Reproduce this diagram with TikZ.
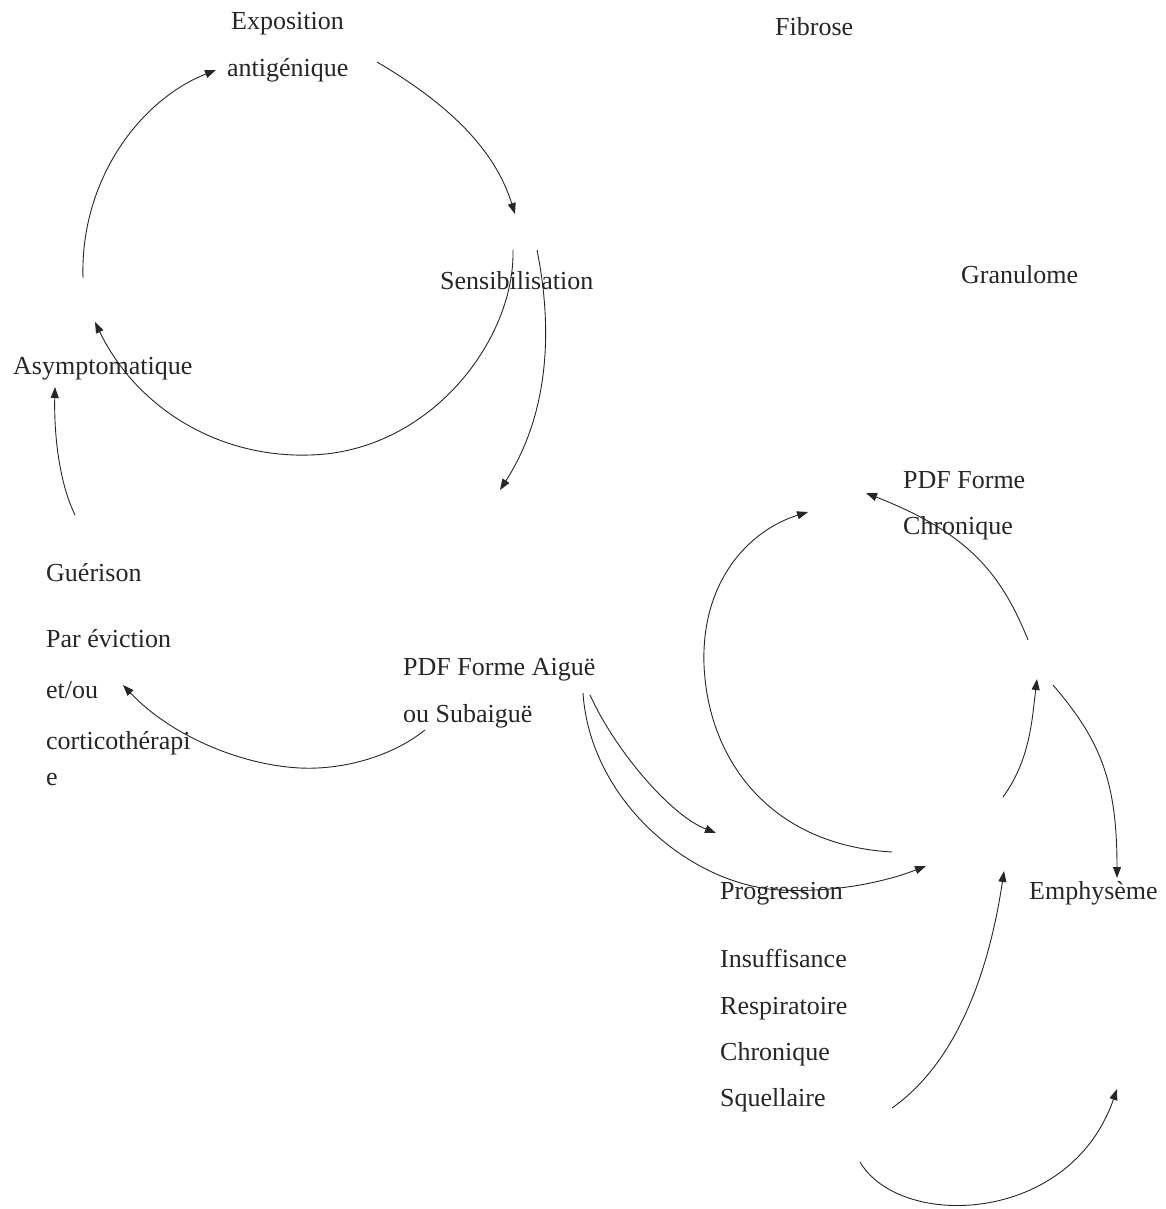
\documentclass[tikz,border=0pt]{standalone}
\usepackage{fontspec}
\setmainfont{Liberation Serif}
\usetikzlibrary{arrows.meta}
\begin{document}
\begin{tikzpicture}[x=1pt,y=-1pt,
  lbl/.style={anchor=base west,inner sep=0pt,font=\fontsize{26}{30}\selectfont,text=black!85},
  conn/.style={line width=0.9pt,draw=black!85,-{Triangle[length=11pt,width=8pt]}}]
\useasboundingbox[fill=white] (0,0) rectangle (1166,1209);
% labels
\node[lbl] (expo) at (231,30) {Exposition};
\node[lbl] (anti) at (227,77) {antigénique};
\node[lbl] (fib) at (775,36) {Fibrose};
\node[lbl] (sens) at (440,289) {Sensibilisation};
\node[lbl] (gran) at (961,283) {Granulome};
\node[lbl] (asym) at (13,374) {Asymptomatique};
\node[lbl] (pdfc1) at (903,488) {PDF Forme};
\node[lbl] (pdfc2) at (903,534) {Chronique};
\node[lbl] (gue) at (46,581) {Guérison};
\node[lbl] (par) at (46,647) {Par éviction};
\node[lbl] (etou) at (46,698) {et/ou};
\node[lbl] (cort) at (46,749) {corticothérapi};
\node[lbl] (cte) at (46,785) {e};
\node[lbl] (pdfa1) at (403,675) {PDF Forme Aiguë};
\node[lbl] (pdfa2) at (403,722) {ou Subaiguë};
\node[lbl] (prog) at (720,899) {Progression};
\node[lbl] (emph) at (1029,899) {Emphysème};
\node[lbl] (ins) at (720,967) {Insuffisance};
\node[lbl] (resp) at (720,1014) {Respiratoire};
\node[lbl] (chro) at (720,1060) {Chronique};
\node[lbl] (sque) at (720,1106) {Squellaire};
% connector end points
\coordinate (a1s) at (83,278);  \coordinate (a1e) at (216,70);
\coordinate (a2s) at (377,62);  \coordinate (a2e) at (515,214);
\coordinate (a3s) at (513,250); \coordinate (a3m) at (310,455); \coordinate (a3e) at (95,322);
\coordinate (a4s) at (537,250); \coordinate (a4e) at (500,490);
\coordinate (a5s) at (75,515);  \coordinate (a5e) at (55,387);
\coordinate (a6s) at (425,730); \coordinate (a6m) at (300,768); \coordinate (a6e) at (123,685);
\coordinate (a7s) at (590,695); \coordinate (a7e) at (716,833);
\coordinate (a8s) at (583,693); \coordinate (a8m) at (780,890); \coordinate (a8e) at (926,866);
\coordinate (a9s) at (892,852); \coordinate (a9m) at (704,665); \coordinate (a9e) at (808,512);
\coordinate (a10s) at (1028,640); \coordinate (a10e) at (866,493);
\coordinate (a11s) at (1003,797); \coordinate (a11e) at (1037,679);
\coordinate (a12s) at (1053,685); \coordinate (a12e) at (1117,878);
\coordinate (a13s) at (892,1108); \coordinate (a13e) at (1004,871);
\coordinate (a14s) at (860,1162); \coordinate (a14e) at (1117,1089);
% connectors
\draw[conn] (a1s) .. controls (80,180) and (140,100) .. (a1e);
\draw[conn] (a2s) .. controls (450,105) and (495,150) .. (a2e);
\draw[conn] (a3s) .. controls (515,340) and (430,452) .. (a3m) .. controls (215,458) and (135,405) .. (a3e);
\draw[conn] (a4s) .. controls (555,340) and (545,420) .. (a4e);
\draw[conn] (a5s) .. controls (58,480) and (54,430) .. (a5e);
\draw[conn] (a6s) .. controls (390,758) and (340,770) .. (a6m) .. controls (240,765) and (170,735) .. (a6e);
\draw[conn] (a7s) .. controls (615,750) and (670,815) .. (a7e);
\draw[conn] (a8s) .. controls (590,800) and (690,885) .. (a8m) .. controls (840,893) and (890,880) .. (a8e);
\draw[conn] (a9s) .. controls (770,845) and (708,760) .. (a9m) .. controls (701,580) and (750,530) .. (a9e);
\draw[conn] (a10s) .. controls (1000,570) and (965,532) .. (a10e);
\draw[conn] (a11s) .. controls (1030,760) and (1032,720) .. (a11e);
\draw[conn] (a12s) .. controls (1100,740) and (1117,780) .. (a12e);
\draw[conn] (a13s) .. controls (960,1060) and (990,965) .. (a13e);
\draw[conn] (a14s) .. controls (900,1230) and (1070,1225) .. (a14e);
\end{tikzpicture}
\end{document}
